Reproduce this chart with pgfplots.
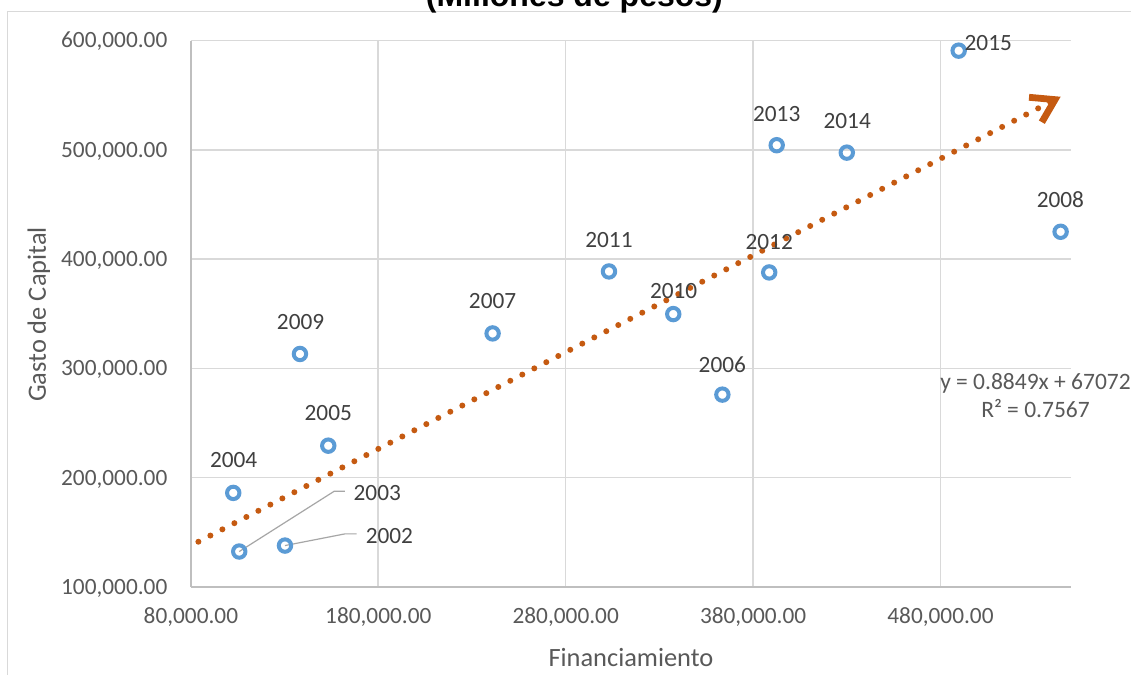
\documentclass[border=0pt]{standalone}
\usepackage{fontspec}
\setmainfont{Carlito}
\newfontfamily\titlefont{Liberation Sans}
\usepackage{pgfplots}
\pgfplotsset{compat=1.18}
\usepackage{pgfplotstable}
\usetikzlibrary{arrows.meta}

\definecolor{markblue}{HTML}{5B9BD5}
\definecolor{trendorange}{HTML}{C55A11}
\definecolor{gridgray}{HTML}{D9D9D9}
\definecolor{axisgray}{HTML}{BFBFBF}
\definecolor{ticktext}{HTML}{595959}
\definecolor{labeltext}{HTML}{404040}
\definecolor{leadergray}{HTML}{A6A6A6}

% Financiamiento vs. Gasto de Capital, one row per year;
% dx/dy place each year label relative to its point (pt)
\pgfplotstableread{
x      y      year dx   dy
130200 137900 2002 52.2 4.9
105800 132450 2003 69.0 29.5
102600 186100 2004 0.2  16.4
153300 229300 2005 0.0  16.3
363600 276000 2006 0.0  15.2
241000 332000 2007 0.0  16.3
544100 425000 2008 -0.1 16.2
138200 313200 2009 0.3  15.9
337400 349700 2010 0.2  11.6
303100 388700 2011 0.0  15.8
388600 387800 2012 0.0  15.3
392600 504200 2013 0.0  15.8
430000 497400 2014 0.2  16.0
489700 590700 2015 14.8 3.95
}\gasto

% linear trend y = 0.8849x + 67072, end points
\pgfplotstableread{
x      y
84000  141404
544100 548546
}\tendencia

\newcommand{\labsize}{\fontsize{11.65}{14}\selectfont}

\begin{document}
\begin{tikzpicture}
\fill[white] (0,0) rectangle (565.5pt,337.5pt);

\begin{axis}[
  at={(95.45pt,44pt)}, anchor=south west,
  scale only axis,
  width=440.05pt, height=273.25pt,
  xmin=80000, xmax=549640,
  ymin=100000, ymax=600000,
  xtick={80000,180000,280000,380000,480000},
  ytick={100000,200000,300000,400000,500000,600000},
  scaled x ticks=false, scaled y ticks=false,
  xticklabel={\pgfmathprintnumber[fixed,fixed zerofill,precision=2,1000 sep={,},assume math mode=true]{\tick}},
  yticklabel={\pgfmathprintnumber[fixed,fixed zerofill,precision=2,1000 sep={,},assume math mode=true]{\tick}},
  tick label style={text=ticktext, font=\labsize, inner sep=0pt},
  xticklabel style={anchor=base, yshift=-18.4pt},
  yticklabel style={anchor=base east, xshift=-11.6pt, yshift=-3.68pt},
  major tick length=0pt,
  axis x line*=bottom, axis y line*=left,
  axis line style={axisgray, line width=0.7pt},
  grid=major,
  grid style={gridgray, line width=0.8pt},
  clip=false,
]

% leader lines for the two displaced labels
\draw[leadergray, line width=0.6pt] (axis cs:105800,132450) -- ++(47.5pt,30.15pt) -- ++(5.35pt,0pt);
\draw[leadergray, line width=0.6pt] (axis cs:130200,137900) -- ++(30pt,5.85pt) -- ++(5.85pt,0pt);

\addplot[
  only marks, mark=o, mark size=3.1pt,
  mark options={markblue, line width=2pt},
  point meta=explicit symbolic,
  visualization depends on={\thisrow{dx} \as \labdx},
  visualization depends on={\thisrow{dy} \as \labdy},
  nodes near coords,
  every node near coord/.append style={anchor=center, inner sep=0pt,
    font=\labsize, text=labeltext, xshift=\labdx*1pt, yshift=\labdy*1pt},
] table[x=x, y=y, meta=year] {\gasto};

\addplot[
  trendorange, line width=3pt, line cap=round,
  dash pattern=on 0pt off 6.75pt,
  -{Straight Barb[length=11pt, width=14pt, line width=3.4pt]},
] table[x=x, y=y] {\tendencia};

\end{axis}

% axis titles
\node[anchor=base, font=\fontsize{13.2}{16}\selectfont, text=ticktext] at (315.5pt,4.15pt) {Financiamiento};
\node[rotate=90, anchor=base, font=\fontsize{13.2}{16}\selectfont, text=ticktext] at (23pt,180.25pt) {Gasto de Capital};

% trend equation
\node[anchor=base, font=\fontsize{11.75}{14}\selectfont, text=ticktext] at (517.75pt,142.5pt) {y = 0.8849x + 67072};
\node[anchor=base, font=\fontsize{11.75}{14}\selectfont, text=ticktext] at (517.75pt,128.5pt) {R² = 0.7567};

% chart frame and title
\draw[gridgray, line width=0.75pt] (3.85pt,0pt) -- (3.85pt,331.85pt) -- (565.5pt,331.85pt);
\node[anchor=base, font=\titlefont\bfseries\fontsize{16}{19}\selectfont] at (287.2pt,334pt) {(Millones de pesos)};

\pgfresetboundingbox
\useasboundingbox (0,0) rectangle (565.5pt,337.5pt);
\end{tikzpicture}
\end{document}
